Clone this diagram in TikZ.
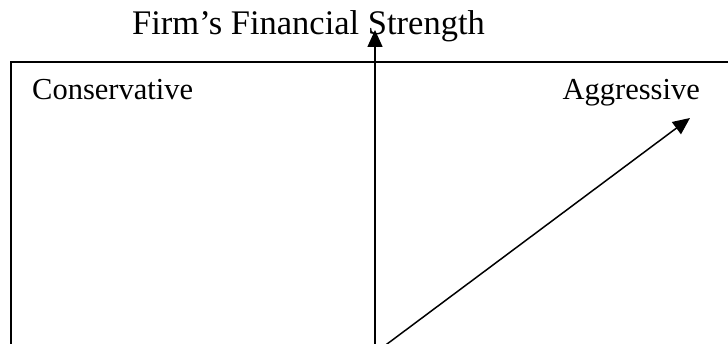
\documentclass[tikz,border=0pt]{standalone}
\usepackage{fontspec}
\setmainfont{Liberation Serif}
\usetikzlibrary{arrows.meta}
\begin{document}
\begin{tikzpicture}[x=1pt,y=-1pt,
  lbl/.style={inner sep=0pt,font=\fontsize{30.5}{36}\selectfont},
  ttl/.style={inner sep=0pt,font=\fontsize{34.5}{40}\selectfont},
  axis/.style={line width=1.5pt,-{Triangle[width=15pt,length=17pt]}},
  frame/.style={line width=1.5pt}]
\useasboundingbox (0,0) rectangle (728,344);
\clip (0,0) rectangle (728,344);
\fill[white] (0,0) rectangle (728,344);
\draw[frame] (11,420) -- (11,62) -- (760,62);
\node[ttl,anchor=base west] (title) at (132,35) {Firm’s Financial Strength};
\node[lbl,anchor=base west] (cons) at (32,100) {Conservative};
\node[lbl,anchor=base east] (aggr) at (700,100) {Aggressive};
\coordinate (vbot) at (375,360);
\coordinate (vtop) at (375,30);
\coordinate (dbot) at (375,353);
\coordinate (dtop) at (690,118);
\draw[axis] (vbot) -- (vtop);
\draw[axis] (dbot) -- (dtop);
\end{tikzpicture}
\end{document}
